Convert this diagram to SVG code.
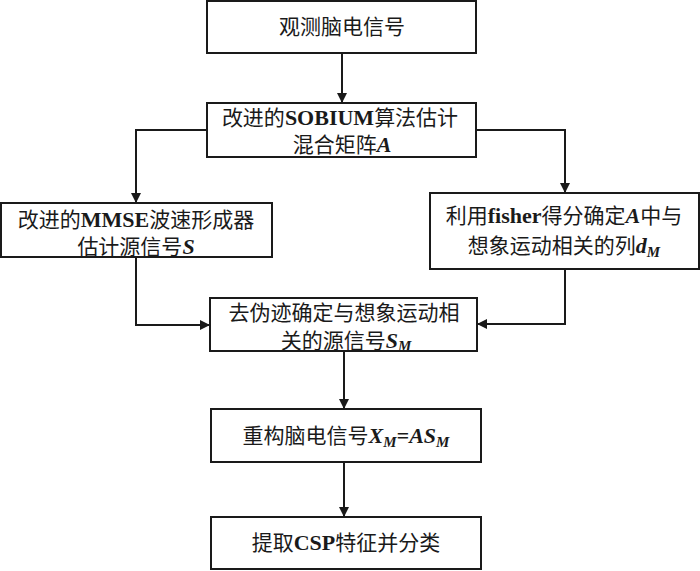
<svg xmlns="http://www.w3.org/2000/svg" width="700" height="571" viewBox="0 0 700 571">
<style>
.box{fill:#fff;stroke:#1a1a1a;stroke-width:2}
.t{font-family:"Noto Sans CJK SC","Liberation Serif",serif;font-size:21px;fill:#1a1a1a;text-anchor:middle}
.l{font-family:"Liberation Serif",serif;font-weight:bold;font-size:22px}
.i{font-family:"Liberation Serif",serif;font-weight:bold;font-style:italic;font-size:22px}
.s{font-size:15px}
.c{fill:none;stroke:#1a1a1a;stroke-width:2}
</style>
<defs>
<marker id="ah" viewBox="0 0 10 10" refX="10" refY="5" markerWidth="10" markerHeight="10" markerUnits="userSpaceOnUse" orient="auto">
<path d="M0,0 L10,5 L0,10 Z" fill="#1a1a1a"/>
</marker>
</defs>
<rect width="700" height="571" fill="#fff"/>
<g id="connectors">
<path class="c" d="M342,53 V103" marker-end="url(#ah)"/>
<path class="c" d="M207,130 H136 V203" marker-end="url(#ah)"/>
<path class="c" d="M476,130 H565 V193" marker-end="url(#ah)"/>
<path class="c" d="M136,257 V325 H210" marker-end="url(#ah)"/>
<path class="c" d="M565,269 V324 H477" marker-end="url(#ah)"/>
<path class="c" d="M344,351 V409" marker-end="url(#ah)"/>
<path class="c" d="M344,462 V517" marker-end="url(#ah)"/>
</g>
<g id="n1">
<rect class="box" x="207" y="1" width="269" height="52"/>
<text class="t" x="342" y="34">观测脑电信号</text>
</g>
<g id="n2">
<rect class="box" x="207" y="103" width="269" height="54"/>
<text class="t" x="340" y="125">改进的<tspan class="l">SOBIUM</tspan>算法估计</text>
<text class="t" x="342" y="152">混合矩阵<tspan class="i">A</tspan></text>
</g>
<g id="n3">
<rect class="box" x="1" y="203" width="271" height="54"/>
<text class="t" x="136" y="227">改进的<tspan class="l">MMSE</tspan>波速形成器</text>
<text class="t" x="136" y="254">估计源信号<tspan class="i">S</tspan></text>
</g>
<g id="n4">
<rect class="box" x="430" y="193" width="269" height="76"/>
<text class="t" x="564" y="223">利用<tspan class="l">fisher</tspan>得分确定<tspan class="i">A</tspan>中与</text>
<text class="t" x="564" y="253">想象运动相关的列<tspan class="i">d</tspan><tspan class="i s" dy="4">M</tspan></text>
</g>
<g id="n5">
<rect class="box" x="210" y="298" width="267" height="53"/>
<text class="t" x="344" y="320">去伪迹确定与想象运动相</text>
<text class="t" x="346" y="348">关的源信号<tspan class="i">S</tspan><tspan class="i s" dy="3">M</tspan></text>
</g>
<g id="n6">
<rect class="box" x="211" y="409" width="270" height="53"/>
<text class="t" x="346" y="443">重构脑电信号<tspan class="i">X</tspan><tspan class="i s" dy="4">M</tspan><tspan class="i" dy="-4">=AS</tspan><tspan class="i s" dy="4">M</tspan></text>
</g>
<g id="n7">
<rect class="box" x="211" y="517" width="270" height="52"/>
<text class="t" x="346" y="550">提取<tspan class="l">CSP</tspan>特征并分类</text>
</g>
</svg>
